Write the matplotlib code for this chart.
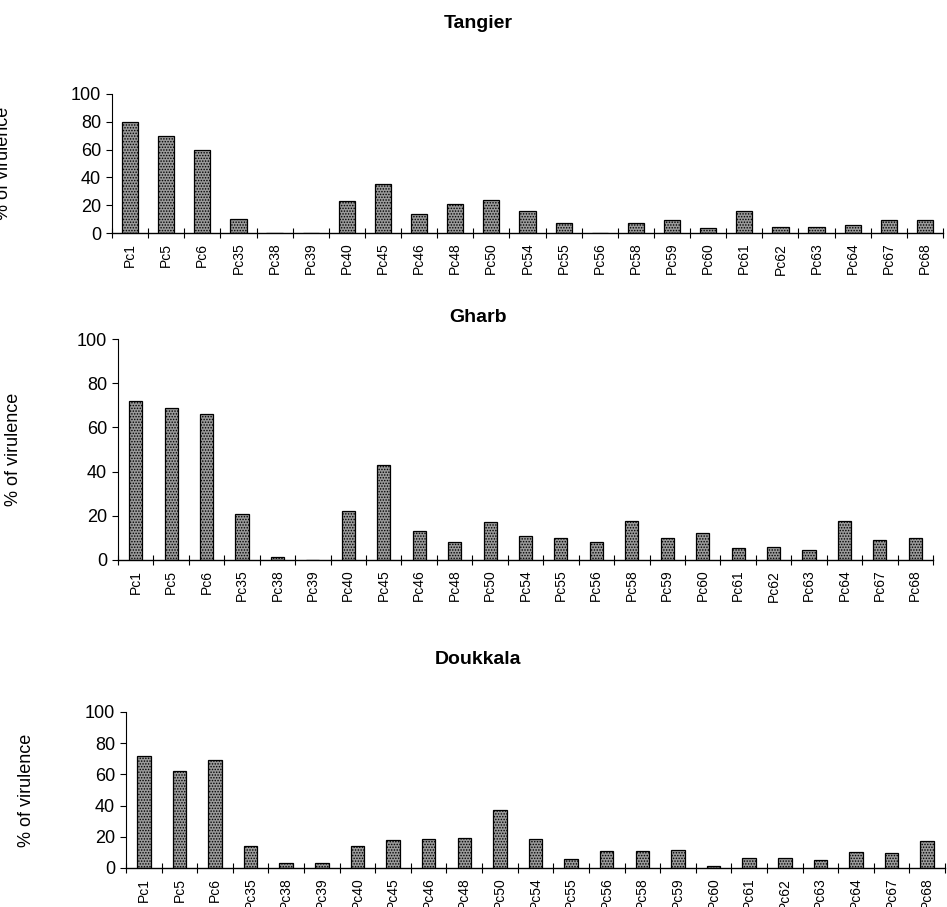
import matplotlib.pyplot as plt
import numpy as np

plt.rcParams['font.family'] = ['Liberation Sans', 'DejaVu Sans']
plt.rcParams['hatch.linewidth'] = 0.7

races = ['Pc1', 'Pc5', 'Pc6', 'Pc35', 'Pc38', 'Pc39', 'Pc40', 'Pc45', 'Pc46',
         'Pc48', 'Pc50', 'Pc54', 'Pc55', 'Pc56', 'Pc58', 'Pc59', 'Pc60',
         'Pc61', 'Pc62', 'Pc63', 'Pc64', 'Pc67', 'Pc68']

tangier = [80, 70, 60, 10, 0, 0, 23, 35, 14, 21, 24, 16, 7, 0, 7, 9, 3.5,
           16, 4, 4, 6, 9, 9]
gharb = [72, 69, 66, 21, 1.2, 0, 22, 43, 13, 8, 17, 11, 10, 8, 17.5, 10, 12,
         5.5, 6, 4.5, 17.5, 9, 10]
doukkala = [72, 62, 69, 14, 3, 3, 14, 18, 18.5, 19, 37.5, 18.5, 6, 11, 11,
            11.5, 1.5, 6.5, 6.5, 5, 10, 9.5, 17.5]

regions = ['Tangier', 'Gharb', 'Doukkala']
values = [tangier, gharb, doukkala]

W, H = 947, 907
fig = plt.figure(figsize=(W / 100, H / 100), dpi=100)

# pixel boxes: left, right, top(100), bottom(0)
boxes = [(112, 943, 94, 233), (118, 933, 339, 560), (126, 945, 712, 868)]
title_y = [24, 318, 660]
label_x = [-0.12, -0.118, -0.111]
bar_w = [0.45, 0.37, 0.38]

x = np.arange(len(races))
for i, (name, vals) in enumerate(zip(regions, values)):
    l, r, t, b = boxes[i]
    ax = fig.add_axes([l / W, 1 - b / H, (r - l) / W, (b - t) / H])
    ax.bar(x, vals, width=bar_w[i], color='#9a9a9a', edgecolor='black',
           linewidth=0.9, hatch='......')
    ax.set_xlim(-0.5, len(races) - 0.5)
    ax.set_ylim(0, 100)
    ax.set_yticks(range(0, 101, 20))
    ax.tick_params(axis='y', labelsize=13, length=4, width=0.8, pad=4)
    ax.set_xticks(x)
    ax.set_xticklabels(races, rotation=90, fontsize=10)
    ax.tick_params(axis='x', which='major', length=0, pad=7)
    ax.set_xticks(np.arange(-0.5, len(races)), minor=True)
    ax.tick_params(axis='x', which='minor', direction='inout', length=7, width=0.8)
    for s in ['top', 'right']:
        ax.spines[s].set_visible(False)
    ax.spines['left'].set_linewidth(0.8)
    ax.spines['bottom'].set_linewidth(1.0)
    ax.set_ylabel('% of virulence', fontsize=13)
    ax.yaxis.set_label_coords(label_x[i], 0.5)
    fig.text(478 / W, 1 - title_y[i] / H, name, ha='center', va='center',
             fontsize=14, fontweight='bold')

fig.savefig('out.png', dpi=100)
